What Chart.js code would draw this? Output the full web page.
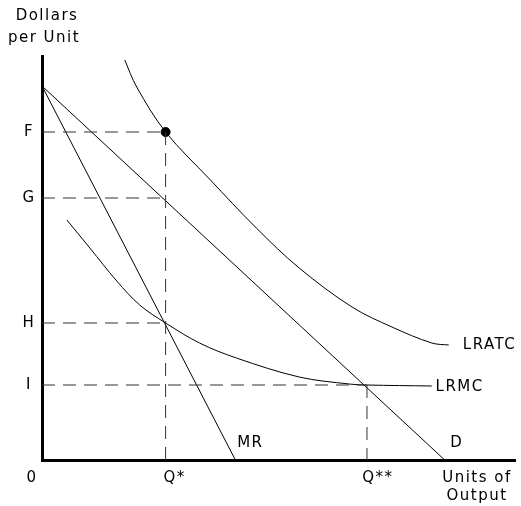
<!DOCTYPE html>
<html>
<head>
<meta charset="utf-8">
<script src="https://cdn.jsdelivr.net/npm/chart.js@4/dist/chart.umd.min.js"></script>
<style>
    body { margin: 0; background: #fff; }
    #wrap { width: 521px; height: 506px; }
</style>
</head>
<body>
<div id="wrap"><canvas id="costChart" width="521" height="506"></canvas></div>
<script>
// quantities and prices
var qStar = 124;
var qStarStar = 326;
var priceF = 328;
var priceG = 262;
var priceH = 137;
var priceI = 75;

var demand = [{ x: 0, y: 374 }, { x: 404, y: 0 }];
var marginalRevenue = [{ x: 0, y: 374 }, { x: 194, y: 0 }];
var lratc = [
    { x: 83, y: 400 }, { x: 95, y: 373 }, { x: 124, y: 328 }, { x: 168, y: 281 },
    { x: 215, y: 232 }, { x: 258, y: 192 }, { x: 311, y: 153 }, { x: 351, y: 133 },
    { x: 391, y: 117 }, { x: 408, y: 115 }
];
var lrmc = [
    { x: 25, y: 240 }, { x: 48, y: 212 }, { x: 75, y: 179 }, { x: 98, y: 155 },
    { x: 124, y: 137 }, { x: 158, y: 117 }, { x: 195, y: 102 }, { x: 258, y: 83 },
    { x: 308, y: 76 }, { x: 326, y: 75 }, { x: 391, y: 74 }
];

var yTickValues = [priceF, priceG, priceH, priceI];
var yTickLabels = ['F', 'G', 'H', 'I'];
var xTickValues = [0, qStar, qStarStar];
var xTickLabels = ['0', 'Q*', 'Q**'];

var FONT = '15px "DejaVu Sans"';

function guide(points) {
    return {
        data: points, showLine: true, borderColor: '#333', borderWidth: 1,
        borderDash: [13, 8], pointRadius: 0, fill: false
    };
}

function curve(points, smooth) {
    return {
        data: points, showLine: true, borderColor: '#000', borderWidth: 1,
        pointRadius: 0, fill: false, tension: smooth ? 0.35 : 0
    };
}

// tick labels, curve names and axis titles, placed through the scales
var textPlugin = {
    id: 'econText',
    afterDraw: function (chart) {
        var ctx = chart.ctx;
        var xs = chart.scales.x;
        var ys = chart.scales.y;
        ctx.save();
        ctx.font = FONT;
        ctx.fillStyle = '#000';
        ctx.textAlign = 'center';
        ctx.textBaseline = 'middle';
        ctx.letterSpacing = '1.5px';

        for (var i = 0; i < yTickValues.length; i++) {
            ctx.fillText(yTickLabels[i], xs.getPixelForValue(0) - 13, ys.getPixelForValue(yTickValues[i]));
        }
        var xNudge = [-10, 9, 11];
        for (var j = 0; j < xTickValues.length; j++) {
            ctx.fillText(xTickLabels[j], xs.getPixelForValue(xTickValues[j]) + xNudge[j], ys.getPixelForValue(0) + 18);
        }

        var names = [
            ['MR', 209, 17], ['D', 416, 17], ['LRATC', 449, 115], ['LRMC', 419, 73]
        ];
        names.forEach(function (n) {
            ctx.fillText(n[0], xs.getPixelForValue(n[1]), ys.getPixelForValue(n[2]));
        });

        ctx.fillText('Dollars', 47, 16);
        ctx.fillText('per Unit', 44, 38);
        ctx.fillText('Units of', 477, 478);
        ctx.fillText('Output', 477, 496);
        ctx.restore();
    }
};

var ctx = document.getElementById('costChart');
new Chart(ctx, {
    type: 'scatter',
    data: {
        datasets: [
            guide([{ x: 0, y: priceF }, { x: qStar, y: priceF }]),
            guide([{ x: qStar, y: priceF }, { x: qStar, y: 0 }]),
            guide([{ x: 0, y: priceG }, { x: qStar, y: priceG }]),
            guide([{ x: 0, y: priceH }, { x: qStar, y: priceH }]),
            guide([{ x: 0, y: priceI }, { x: qStarStar, y: priceI }]),
            guide([{ x: qStarStar, y: priceI }, { x: qStarStar, y: 0 }]),
            curve(demand, false),
            curve(marginalRevenue, false),
            curve(lratc, true),
            curve(lrmc, true),
            {
                data: [{ x: qStar, y: priceF }], pointRadius: 4.5,
                pointBackgroundColor: '#000', pointBorderColor: '#000', showLine: false
            }
        ]
    },
    options: {
        responsive: false,
        animation: false,
        layout: { padding: { left: 42, top: 56, right: 4, bottom: 46 } },
        plugins: { legend: { display: false }, tooltip: { enabled: false } },
        scales: {
            x: {
                type: 'linear', min: 0, max: 475,
                grid: { display: false, drawTicks: false },
                ticks: { display: false },
                border: { display: true, width: 3, color: '#000' }
            },
            y: {
                type: 'linear', min: 0, max: 404,
                grid: { display: false, drawTicks: false },
                ticks: { display: false },
                border: { display: true, width: 3, color: '#000' }
            }
        }
    },
    plugins: [textPlugin]
});
</script>
</body>
</html>
